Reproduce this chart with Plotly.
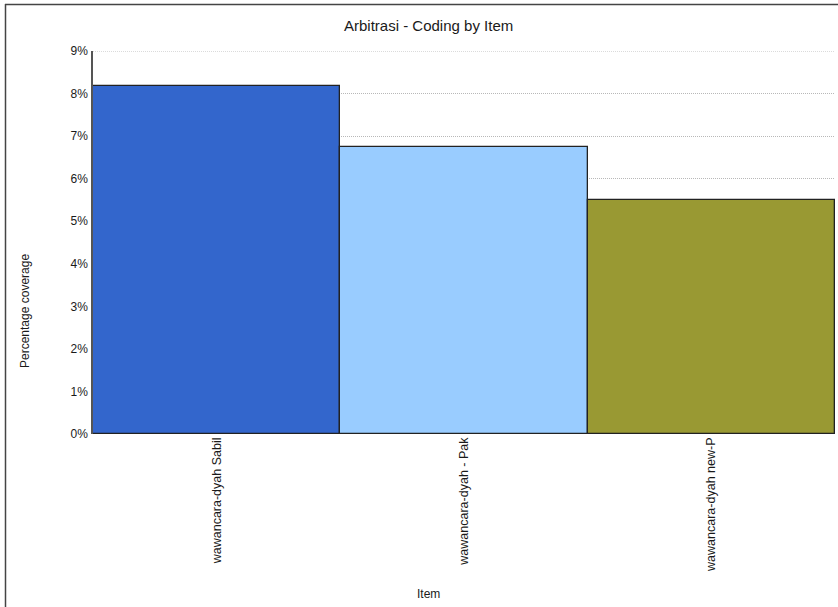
import plotly.graph_objects as go

# Coverage of the "Arbitrasi" code per interview item
items = ["wawancara-dyah Sabil", "wawancara-dyah - Pak", "wawancara-dyah new-P"]
coverage = [8.17, 6.74, 5.49]
colors = ["#3366CC", "#99CCFF", "#999933"]
y_ticks = list(range(0, 10))
y_tick_labels = [f"{v}%" for v in y_ticks]

W, H = 838, 607
L, R, T, B = 93, 3, 51, 173
pw, ph = W - L - R, H - T - B


def px_x(x):
    return (x - L) / pw


def px_y(y):
    return (H - B - y) / ph


fig = go.Figure(
    go.Bar(
        x=items,
        y=coverage,
        marker=dict(color=colors, line=dict(color="#222222", width=1.3)),
        width=1.0,
        hoverinfo="x+y",
    )
)

font = "Liberation Sans, Arial, sans-serif"
ink = "#1a1a1a"
grid_dash = "1px,1px"


def label(text, x, y, size, angle=0):
    return dict(text=text, x=px_x(x), y=px_y(y), xref="paper", yref="paper",
                xanchor="center", yanchor="middle", showarrow=False,
                textangle=angle, font=dict(size=size, color=ink))


fig.update_layout(
    width=W,
    height=H,
    margin=dict(l=L, r=R, t=T, b=B),
    paper_bgcolor="white",
    plot_bgcolor="white",
    showlegend=False,
    bargap=0,
    font=dict(family=font, size=12, color=ink),
    xaxis=dict(
        tickangle=-90,
        tickfont=dict(size=12.5, color=ink),
        showgrid=False,
        showline=False,
        ticks="",
        range=[-0.5, 2.5],
    ),
    yaxis=dict(
        range=[0, 9],
        tickvals=y_ticks,
        ticktext=y_tick_labels,
        tickfont=dict(size=12, color=ink),
        ticklabelstandoff=1,
        showgrid=True,
        gridcolor="#B8B8B8",
        griddash=grid_dash,
        gridwidth=1,
        showline=True,
        linecolor="#555555",
        linewidth=1.5,
        ticks="",
        zeroline=False,
    ),
    annotations=[
        label("Arbitrasi - Coding by Item", 428, 25, 15),
        label("Percentage coverage", 25, 311, 12, -90),
        label("Item", 428, 594, 12),
    ],
    shapes=[
        # dotted line along the 9% top of the value axis
        dict(type="line", xref="paper", yref="y", x0=0, x1=1, y0=9, y1=9,
             line=dict(color="#B8B8B8", width=1, dash=grid_dash), layer="below"),
        # outer frame (top and left edges)
        dict(type="line", xref="paper", yref="paper",
             x0=px_x(5), x1=px_x(840), y0=px_y(4.5), y1=px_y(4.5),
             line=dict(color="#444444", width=1.5)),
        dict(type="line", xref="paper", yref="paper",
             x0=px_x(5.5), x1=px_x(5.5), y0=px_y(4), y1=px_y(610),
             line=dict(color="#444444", width=1.5)),
    ],
)

fig.write_html("out.html")
